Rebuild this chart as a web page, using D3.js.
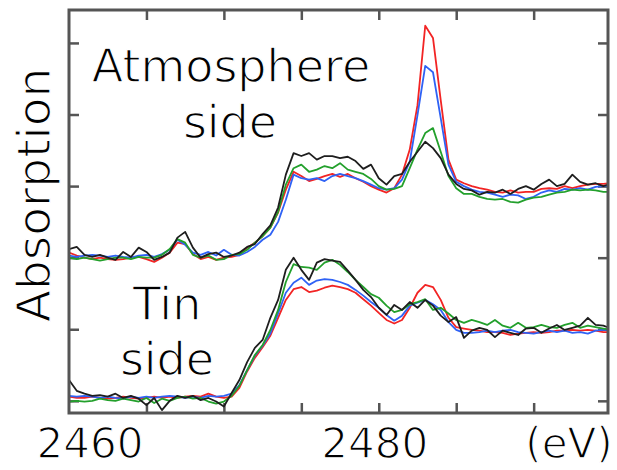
<!DOCTYPE html>
<html>
<head>
<meta charset="utf-8">
<script src="https://cdn.jsdelivr.net/npm/d3@7"></script>
<style>
  body { margin: 0; background: #fff; }
  svg { display: block; font-family: "DejaVu Sans", sans-serif; }
  /* thin the glyphs a little, the original face is lighter */
  text { stroke: #fff; stroke-width: 1.3px; }
</style>
</head>
<body>
<div id="chart"></div>
<script>
// photon energy grid (eV), 0.5 eV steps
var energy = d3.range(2460, 2495.01, 0.5);

// normalized absorption, atmosphere side (plotted with offset)
var atmRed = [0.07,0.03,0,-0.02,0,-0.02,-0.03,-0.02,0,0.01,-0.02,-0.06,0,0.07,0.21,0.19,0.05,-0.02,0.01,-0.03,
  0,0.01,0.04,0.14,0.21,0.30,0.42,0.63,0.95,1.20,1.14,1.07,1.10,1.14,1.17,1.13,1.17,1.11,1.06,1.00,
  0.95,0.91,0.97,1.16,1.51,2.13,3.24,3.07,2.20,1.37,1.09,1.04,1.00,0.97,0.95,0.92,0.91,0.94,0.91,0.92,
  0.92,0.96,0.97,0.96,1.00,0.97,1.00,1.02,1.03,1.03,1.04];
var atmBlue = [0.03,0.01,0.03,0.04,0.03,0.01,0.03,0.01,0,0.03,0.04,0.01,0.05,0.11,0.25,0.18,0.07,0.04,0.08,0.03,
  0.11,0.04,0.03,0.08,0.15,0.25,0.32,0.50,0.81,1.16,1.11,1.09,1.11,1.07,1.14,1.17,1.14,1.11,1.07,1.02,
  0.97,0.95,0.97,1.09,1.34,1.99,2.68,2.59,1.95,1.30,1.06,1.00,0.95,0.92,0.91,0.88,0.85,0.88,0.87,0.82,
  0.85,0.91,0.94,0.92,0.96,0.95,0.97,0.95,0.99,1.00,1.00];
var atmGreen = [0,-0.02,0,-0.02,-0.04,-0.02,0,0,-0.02,0.01,0,0,0.04,0.12,0.26,0.21,0.04,0,0.03,-0.03,
  -0.02,0.04,0.05,0.11,0.21,0.30,0.42,0.64,1.02,1.25,1.30,1.20,1.23,1.28,1.25,1.32,1.23,1.20,1.17,1.10,
  1.00,0.95,0.96,1.00,1.25,1.51,1.74,1.81,1.48,1.14,0.97,0.89,0.89,0.85,0.82,0.81,0.82,0.78,0.77,0.81,
  0.84,0.85,0.88,0.91,0.92,0.95,0.94,0.95,0.94,0.92,0.92];
var atmBlack = [0.12,0.15,0.04,0.01,0.04,0,-0.03,0.08,0.01,0.14,0.08,-0.03,0.01,0.07,0.28,0.36,0.14,0,0.05,0.07,
  0.01,0.03,0.07,0.15,0.19,0.33,0.45,0.70,1.16,1.46,1.42,1.46,1.37,1.42,1.42,1.39,1.41,1.35,1.24,1.30,
  1.11,1.02,1.14,1.17,1.34,1.48,1.62,1.53,1.39,1.16,1.03,0.96,0.94,0.88,0.92,0.91,0.95,0.89,0.96,1.00,
  0.95,1.03,1.09,1.00,1.03,1.16,1.06,1.02,1.04,1.00,1.03];

// normalized absorption, tin side
var tinRed = [0.06,0.04,0.04,0.06,0.04,0.03,0.04,0.06,0.04,0.03,0.04,0.06,0.04,0.06,0.04,0.06,0.07,0.06,0.10,0.06,
  0.04,0.06,0.18,0.41,0.60,0.75,0.91,1.16,1.41,1.56,1.59,1.52,1.54,1.58,1.61,1.59,1.56,1.51,1.42,1.33,
  1.23,1.13,1.08,1.13,1.30,1.51,1.62,1.59,1.41,1.16,1.03,1.01,0.99,0.98,0.96,0.96,0.95,0.92,0.94,0.95,
  0.96,0.95,0.96,0.98,0.98,0.99,0.98,0.99,0.98,0.96,0.96];
var tinBlue = [0.07,0.06,0.07,0.06,0.04,0.06,0.04,0.03,0.06,0.04,0.06,0.04,0.06,0.07,0.06,0.04,0.06,0.04,0.07,0.06,
  0.07,0.10,0.22,0.43,0.63,0.77,0.94,1.22,1.51,1.65,1.72,1.62,1.68,1.70,1.69,1.66,1.62,1.55,1.47,1.38,
  1.30,1.20,1.12,1.19,1.33,1.37,1.41,1.35,1.27,1.10,0.99,0.95,0.95,0.96,0.98,0.96,0.98,0.99,0.96,0.95,
  0.94,0.96,0.98,0.96,0.98,0.95,0.96,0.94,0.98,0.99,0.99];
var tinGreen = [-0.01,0,-0.01,0,0.03,0.01,0,0.03,0.01,-0.01,0.04,-0.03,0.03,0,0.04,0.06,0.03,0.04,-0.01,-0.04,
  -0.01,0.07,0.21,0.43,0.64,0.78,0.99,1.27,1.66,1.91,1.87,1.86,1.83,1.93,1.97,1.90,1.80,1.69,1.59,1.49,
  1.44,1.33,1.24,1.27,1.35,1.38,1.42,1.27,1.30,1.22,1.13,1.09,1.13,1.10,1.06,1.13,1.05,1.02,1.09,1.02,
  1.03,1.06,1.03,1.02,1.06,1.09,1.02,1.05,1.03,1.01,0.99];
var tinBlack = [0.29,0.14,0.10,0.07,0.08,0.06,0.10,0.04,0.07,0.03,-0.06,0.04,-0.13,0,0.07,0.04,0.07,0.01,0.04,-0.01,
  -0.08,0.11,0.29,0.54,0.74,0.85,1.16,1.41,1.83,2.00,1.83,1.69,1.93,1.98,1.96,1.94,1.82,1.69,1.55,1.45,
  1.30,1.20,1.34,1.27,1.38,1.30,1.41,1.33,1.19,1.10,1.17,0.88,0.98,1.02,0.99,0.89,0.98,0.95,0.92,1.01,
  1.02,0.95,1.01,1.06,0.99,1.02,1.05,1.16,1.06,1.05,1.01];

var offsets = { atm: 2, tin: 0 };
var colors = ["#f22424", "#2f62f5", "#23a02c", "#1e1e1e"];
var xTicks = [2465, 2470, 2475, 2480, 2485, 2490];
var yTicks = [0, 1, 2, 3, 4, 5];
var xLabels = [2460, 2480];

var W = 617, H = 470;
var m = { left: 69, right: 608, top: 10, bottom: 413 };

var x = d3.scaleLinear().domain([2460, 2494.8]).range([m.left, m.right]);
var y = d3.scaleLinear().domain([-0.17, 5.46]).range([m.bottom, m.top]);

var svg = d3.select("#chart").append("svg")
    .attr("width", W)
    .attr("height", H);

svg.append("clipPath").attr("id", "plot")
  .append("rect")
    .attr("x", m.left).attr("y", m.top)
    .attr("width", m.right - m.left).attr("height", m.bottom - m.top);

// ticks pointing inward on all four sides
function styleAxis(g) {
  g.select(".domain").remove();
  g.selectAll(".tick line").attr("stroke", "#555").attr("stroke-width", 2.5);
}
svg.append("g").attr("transform", "translate(0," + m.bottom + ")")
  .call(d3.axisBottom(x).tickValues(xTicks).tickSize(-10).tickFormat(""))
  .call(styleAxis);
svg.append("g").attr("transform", "translate(0," + m.top + ")")
  .call(d3.axisTop(x).tickValues(xTicks).tickSize(-10).tickFormat(""))
  .call(styleAxis);
svg.append("g").attr("transform", "translate(" + m.left + ",0)")
  .call(d3.axisLeft(y).tickValues(yTicks).tickSize(-10).tickFormat(""))
  .call(styleAxis);
svg.append("g").attr("transform", "translate(" + m.right + ",0)")
  .call(d3.axisRight(y).tickValues(yTicks).tickSize(-10).tickFormat(""))
  .call(styleAxis);

// spectra
var panels = [
  { off: offsets.tin, series: [tinRed, tinBlue, tinGreen, tinBlack] },
  { off: offsets.atm, series: [atmRed, atmBlue, atmGreen, atmBlack] }
];
var lines = svg.append("g").attr("clip-path", "url(#plot)");
panels.forEach(function(p) {
  p.series.forEach(function(vals, i) {
    var line = d3.line()
        .x(function(d, j) { return x(energy[j]); })
        .y(function(d) { return y(d + p.off); });
    lines.append("path")
        .datum(vals)
        .attr("fill", "none")
        .attr("stroke", colors[i])
        .attr("stroke-width", 1.8)
        .attr("stroke-linejoin", "round")
        .attr("d", line);
  });
});

// frame
svg.append("rect")
    .attr("x", m.left).attr("y", m.top)
    .attr("width", m.right - m.left).attr("height", m.bottom - m.top)
    .attr("fill", "none")
    .attr("stroke", "#555")
    .attr("stroke-width", 3);

// tick labels
svg.selectAll(".xlab").data(xLabels).enter().append("text")
    .attr("x", function(d, i) { return x(d) + (i === 0 ? 21 : -4); })
    .attr("y", 458)
    .attr("text-anchor", "middle")
    .style("font-size", "42px")
    .text(function(d) { return d; });
svg.append("text")
    .attr("x", 569).attr("y", 458)
    .attr("text-anchor", "middle")
    .style("font-size", "42px")
    .text("(eV)");

svg.append("text")
    .attr("transform", "translate(50,195) rotate(-90)")
    .attr("text-anchor", "middle")
    .style("font-size", "47px")
    .text("Absorption");

// panel labels
var labels = [
  { t: "Atmosphere", x: 231, y: 82 },
  { t: "side", x: 230, y: 138 },
  { t: "Tin", x: 167, y: 320 },
  { t: "side", x: 167, y: 375 }
];
svg.selectAll(".plab").data(labels).enter().append("text")
    .attr("x", function(d) { return d.x; })
    .attr("y", function(d) { return d.y; })
    .attr("text-anchor", "middle")
    .style("font-size", "46px")
    .text(function(d) { return d.t; });
</script>
</body>
</html>
